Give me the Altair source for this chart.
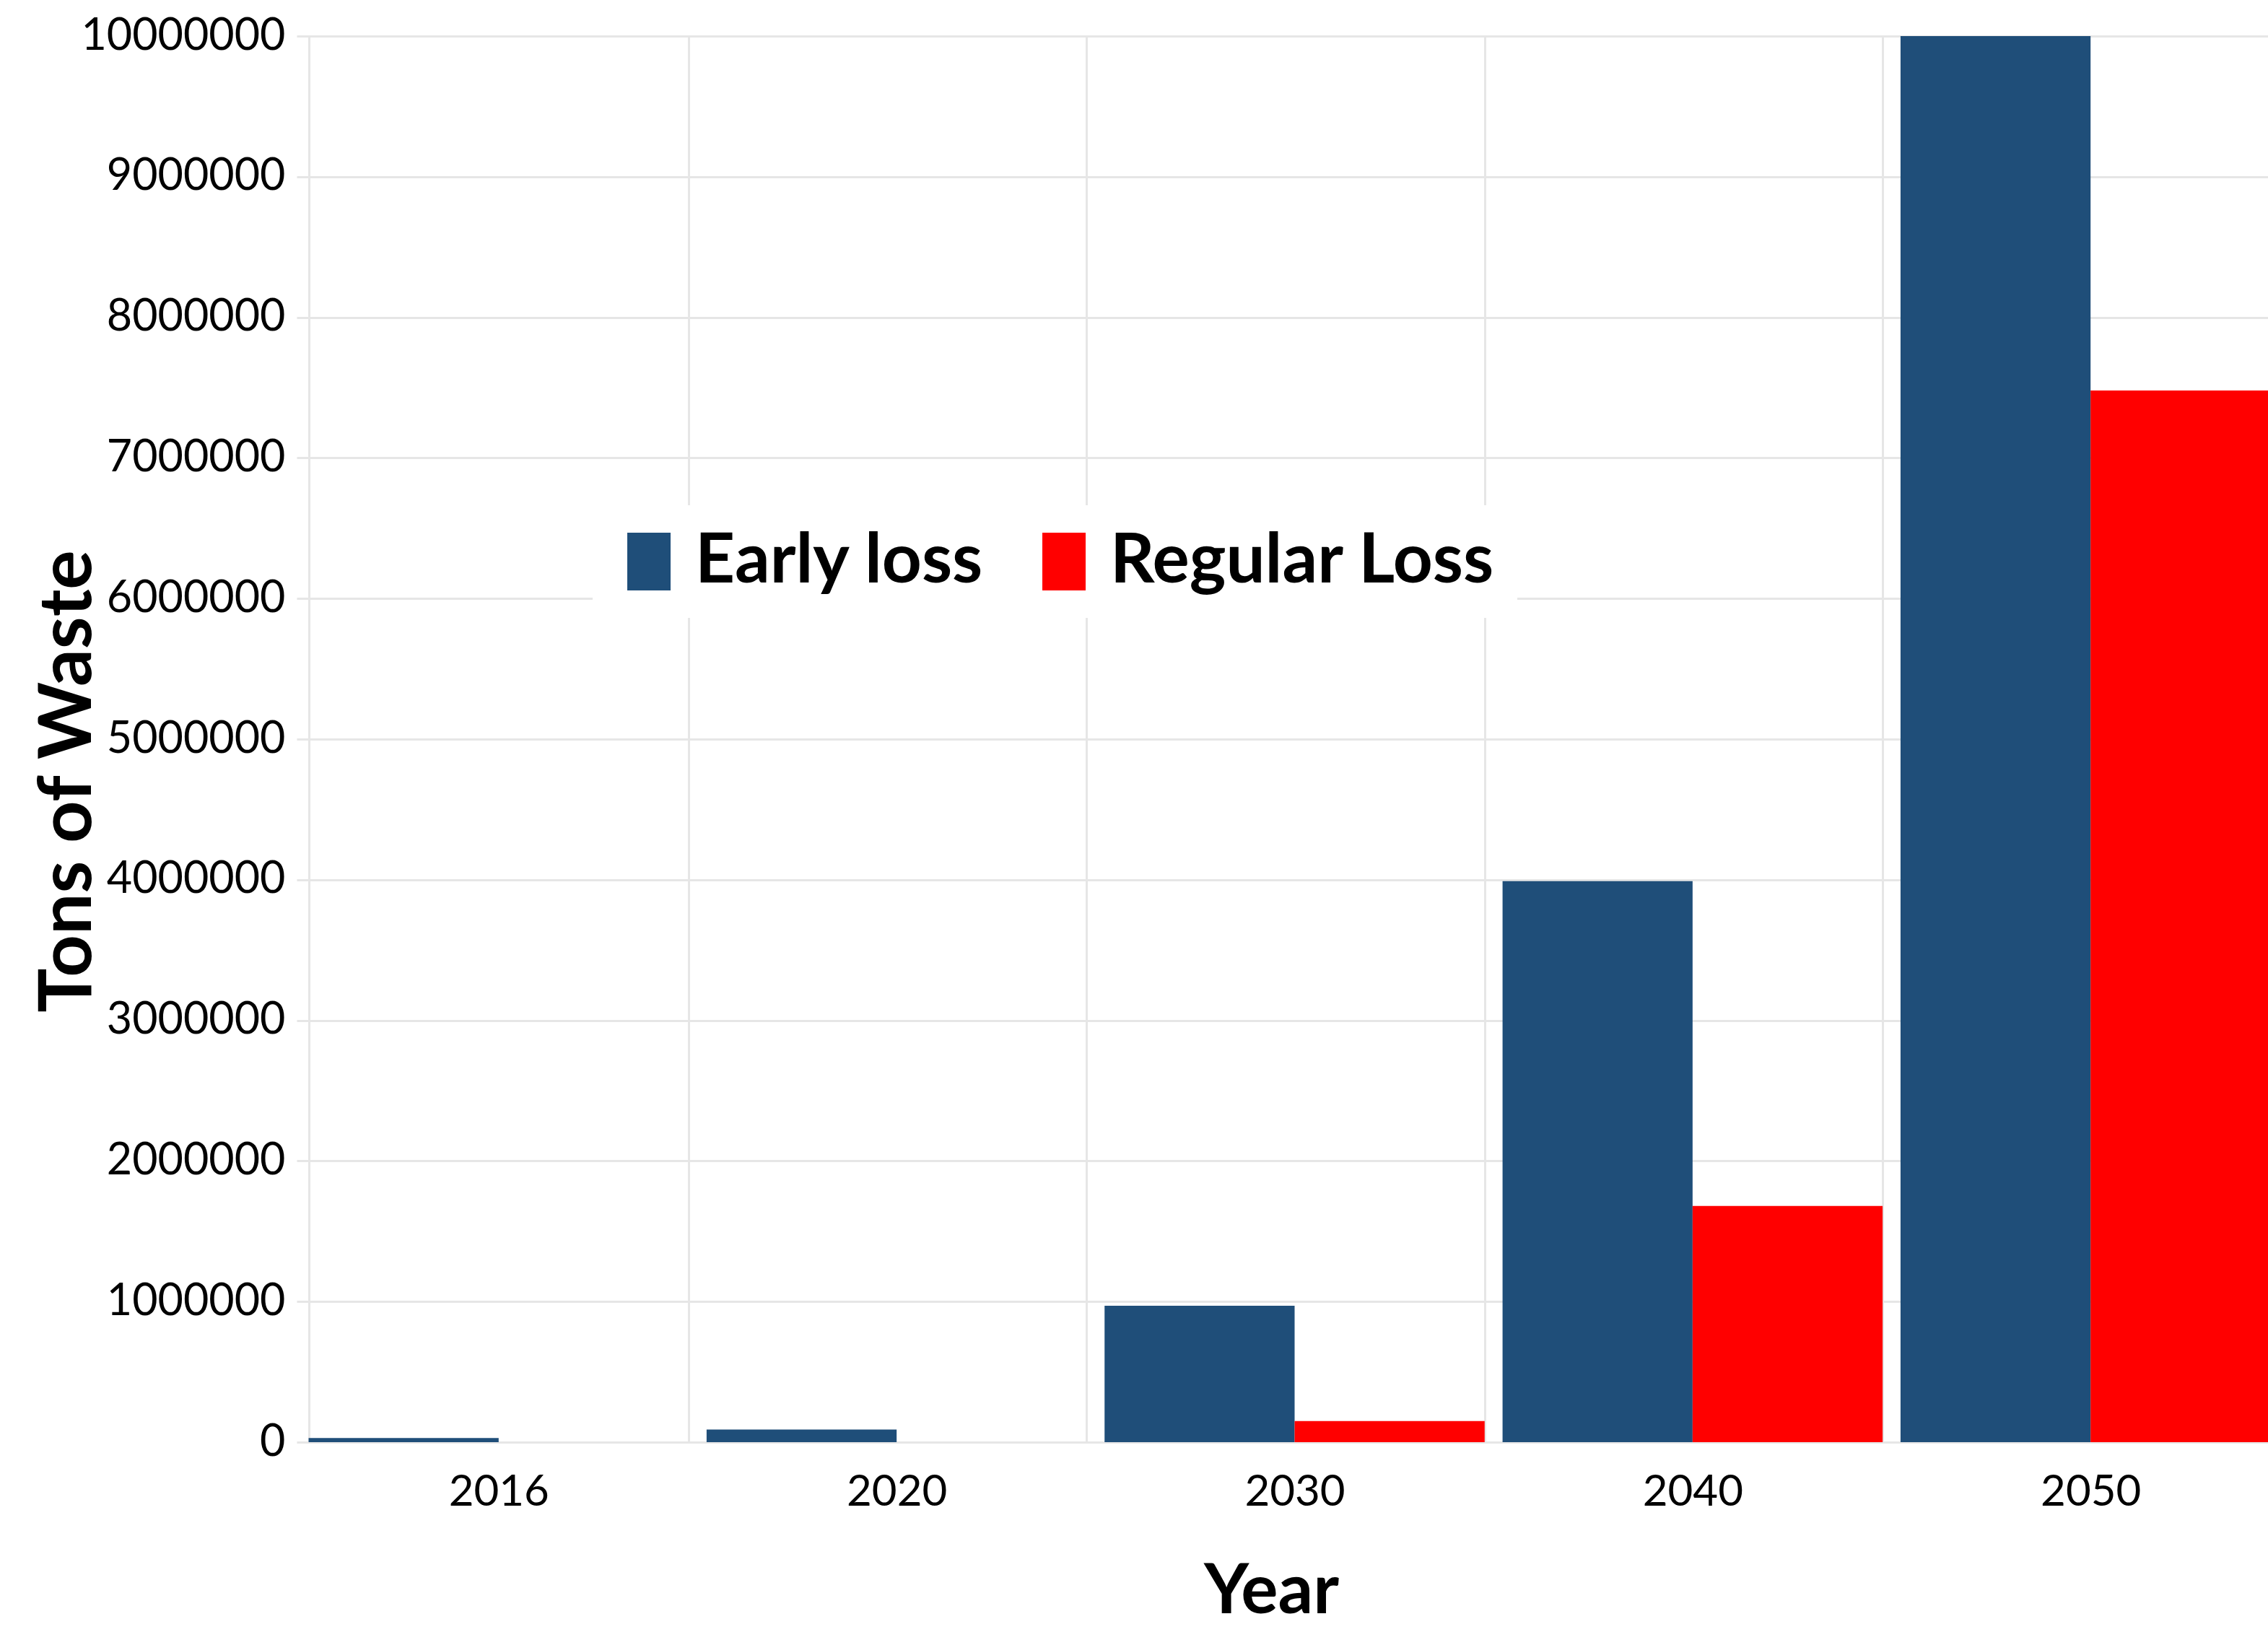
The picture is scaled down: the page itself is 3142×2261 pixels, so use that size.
import altair as alt
import pandas as pd

years = ["2016", "2020", "2030", "2040", "2050"]
series_names = ["Early loss", "Regular Loss"]
early_loss = [30000, 90000, 970000, 3990000, 10000000]
regular_loss = [0, 0, 150000, 1680000, 7480000]
y_ticks = [0, 1000000, 2000000, 3000000, 4000000, 5000000,
           6000000, 7000000, 8000000, 9000000, 10000000]
colors = ["#1F4E79", "#FF0000"]

rows = []
for i, yr in enumerate(years):
    rows.append({"year": yr, "series": series_names[0], "value": early_loss[i]})
    rows.append({"year": yr, "series": series_names[1], "value": regular_loss[i]})
df = pd.DataFrame(rows)

FONT = "Lato"
rect_symbol = "M-0.75,-1H0.75V1H-0.75Z"

chart = alt.Chart(df).mark_bar(clip=True).encode(
    x=alt.X("year:N", sort=years,
            scale=alt.Scale(paddingInner=0.045, paddingOuter=0.03, range=[0, 2765]),
            axis=alt.Axis(title="Year", labelAngle=0, labelFont=FONT, labelFontSize=60,
                          labelColor="black", labelPadding=40, ticks=False, domain=False,
                          grid=True, tickBand="extent", gridColor="#e6e6e6", gridWidth=3,
                          labelLimit=0,
                          titleFont=FONT, titleFontSize=96, titleFontWeight="bold",
                          titleColor="black", titleY=236, titleX=1350,
                          titleBaseline="alphabetic")),
    xOffset=alt.XOffset("series:N", sort=series_names),
    y=alt.Y("value:Q",
            scale=alt.Scale(domain=[0, 10000000], nice=False),
            axis=alt.Axis(title="Tons of Waste", values=y_ticks, format="d",
                          labelFont=FONT, labelFontSize=61, labelColor="black",
                          labelPadding=16, ticks=False, domain=False, labelLimit=0,
                          gridColor="#e6e6e6", gridWidth=3,
                          titleFont=FONT, titleFontSize=102, titleFontWeight="bold",
                          titleColor="black", titleAngle=270, titleX=-317, titleY=1032,
                          titleBaseline="middle", titleAlign="center")),
    color=alt.Color("series:N", sort=series_names,
                    scale=alt.Scale(domain=series_names, range=colors),
                    legend=alt.Legend(orient="none", legendX=410, legendY=650,
                                      direction="horizontal", title=None,
                                      labelFont=FONT, labelFontWeight="bold",
                                      labelFontSize=96, labelColor="black",
                                      labelLimit=0,
                                      symbolType=rect_symbol, symbolSize=6400,
                                      symbolStrokeWidth=0, symbolOpacity=1,
                                      fillColor="white", padding=30,
                                      columnPadding=62, labelOffset=16)),
).properties(
    width=2731,
    height=1948,
    autosize=alt.AutoSizeParams(type="none"),
    padding={"left": 411, "top": 50, "right": 0, "bottom": 263},
    background="white",
).configure_view(stroke=None)

chart.save("out.html", embed_options={"renderer": "svg", "actions": False})
